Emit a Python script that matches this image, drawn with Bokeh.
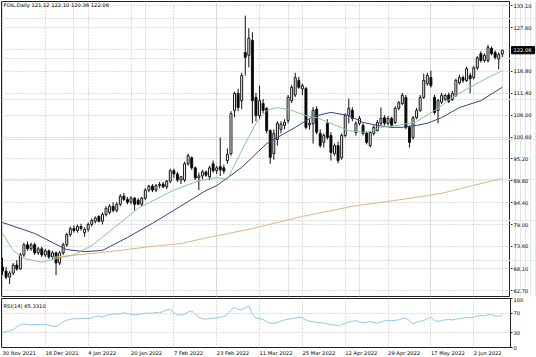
from bokeh.plotting import figure
from bokeh.layouts import column, row
from bokeh.models import ColumnDataSource, FixedTicker, Label, Range1d, Grid, LinearAxis
from bokeh.embed import file_html
from bokeh.resources import INLINE

# ---------------- data ----------------
opens = [68.5, 67.5, 66.0, 67.0, 69.0, 68.0, 71.5, 74.0, 73.0, 74.0,
         72.0, 73.0, 71.5, 72.5, 71.0, 72.0, 69.5, 72.0, 74.0, 76.5,
         78.0, 77.5, 78.5, 77.0, 77.8, 79.0, 79.8, 81.0, 79.8, 81.5,
         82.0, 83.5, 82.5, 84.0, 86.0, 85.2, 84.5, 85.5, 85.0, 84.0,
         85.5, 87.5, 88.5, 87.5, 88.6, 89.0, 88.3, 89.7, 92.3, 91.5,
         90.0, 90.0, 94.0, 95.5, 93.0, 90.5, 91.0, 92.0, 90.8, 94.0,
         92.3, 93.3, 93.0, 94.8, 96.5, 107.2, 111.4, 109.6, 121.5, 120.8,
         124.5, 110.4, 105.9, 108.9, 107.7, 102.2, 96.5, 100.0, 102.5, 103.5,
         104.7, 109.6, 111.0, 114.6, 112.5, 112.6, 103.6, 103.9, 107.5, 101.5,
         99.3, 104.0, 101.0, 96.5, 98.5, 95.5, 101.0, 105.9, 107.2, 101.7,
         104.0, 103.5, 101.7, 98.5, 101.5, 102.2, 104.0, 105.4, 104.0, 105.2,
         104.2, 107.7, 108.9, 110.4, 103.0, 100.5, 105.4, 107.2, 110.4, 113.8,
         115.3, 110.4, 107.2, 109.2, 109.9, 111.0, 109.9, 110.9, 114.0, 115.3,
         114.6, 115.8, 115.3, 117.7, 121.2, 119.5, 119.5, 122.5, 121.5, 119.9,
         121.12]
highs = [70.8, 68.5, 67.5, 69.5, 70.2, 72.0, 74.5, 74.8, 74.5, 74.5,
         73.5, 73.5, 73.0, 72.8, 72.5, 72.3, 72.5, 74.5, 77.0, 78.5,
         78.8, 79.0, 79.2, 78.3, 79.5, 80.5, 81.0, 81.3, 82.0, 83.5,
         84.0, 84.5, 84.5, 86.5, 86.8, 85.8, 86.0, 85.8, 85.5, 85.8,
         88.0, 88.8, 89.0, 89.0, 89.5, 89.5, 90.0, 92.8, 92.8, 92.0,
         91.0, 94.5, 96.5, 95.8, 93.3, 91.8, 92.5, 92.3, 93.5, 94.8,
         93.5, 100.5, 93.8, 97.8, 107.0, 111.8, 112.5, 116.5, 130.6, 127.5,
         126.5, 111.5, 113.3, 110.0, 108.0, 102.5, 102.5, 104.5, 104.5, 105.0,
         111.0, 113.5, 116.5, 115.5, 113.8, 113.0, 105.0, 108.0, 108.2, 102.5,
         101.5, 105.0, 101.8, 99.0, 99.5, 101.5, 106.5, 110.1, 108.0, 104.5,
         105.8, 104.0, 102.0, 102.0, 103.5, 104.8, 107.9, 106.0, 105.8, 105.6,
         108.2, 109.5, 111.5, 111.0, 103.5, 105.8, 107.8, 111.0, 116.3, 116.5,
         117.0, 111.0, 110.0, 111.5, 111.3, 111.6, 112.0, 115.0, 116.0, 115.8,
         118.0, 116.5, 118.2, 120.6, 121.8, 121.3, 123.4, 123.0, 122.0, 121.5,
         122.10]
lows = [66.5, 65.5, 64.3, 66.5, 67.6, 67.8, 71.0, 72.5, 72.5, 71.5,
        71.5, 71.0, 71.0, 70.5, 70.5, 66.5, 69.0, 71.5, 73.5, 76.0,
        77.0, 77.0, 77.5, 76.0, 77.2, 78.5, 79.3, 79.5, 79.0, 81.0,
        81.5, 82.0, 82.0, 83.5, 84.8, 84.0, 84.0, 82.5, 83.8, 83.5,
        85.0, 87.0, 87.0, 87.0, 88.0, 88.0, 87.8, 89.2, 90.5, 89.5,
        89.0, 89.5, 93.5, 92.5, 90.0, 87.5, 90.2, 90.8, 90.0, 91.8,
        91.5, 91.0, 91.5, 94.0, 96.0, 105.5, 107.0, 107.5, 115.8, 117.8,
        104.0, 104.5, 105.0, 106.5, 101.5, 94.0, 95.0, 98.5, 101.5, 102.5,
        104.0, 109.0, 110.5, 112.5, 111.0, 102.5, 102.5, 99.0, 101.3, 98.0,
        98.0, 100.0, 94.8, 96.0, 94.1, 95.0, 100.5, 104.0, 104.5, 101.0,
        103.5, 101.0, 98.8, 98.0, 101.0, 102.0, 103.5, 103.5, 103.5, 103.0,
        103.8, 107.2, 108.5, 102.5, 98.0, 100.0, 105.0, 106.8, 110.0, 113.3,
        112.8, 106.2, 104.0, 108.8, 109.5, 109.0, 109.5, 110.5, 113.6, 114.0,
        114.2, 111.4, 114.8, 117.2, 119.0, 119.0, 119.0, 120.8, 119.8, 117.3,
        120.36]
closes = [67.5, 66.0, 67.0, 69.0, 68.0, 71.5, 74.0, 73.0, 74.0, 72.0,
          73.0, 71.5, 72.5, 71.0, 72.0, 69.5, 72.0, 74.0, 76.5, 78.0,
          77.5, 78.5, 78.0, 77.8, 79.0, 80.0, 80.6, 79.8, 81.5, 83.0,
          83.5, 82.5, 84.0, 86.0, 85.2, 84.5, 85.5, 84.0, 84.0, 85.5,
          87.5, 88.5, 87.5, 88.6, 88.9, 88.3, 89.7, 92.3, 91.5, 90.0,
          90.8, 94.0, 96.0, 93.0, 90.5, 91.0, 92.0, 91.2, 93.0, 92.3,
          93.0, 92.5, 92.2, 96.3, 106.4, 111.4, 107.9, 115.8, 120.3, 125.0,
          109.6, 105.9, 109.6, 107.2, 102.2, 95.6, 101.5, 104.0, 103.8, 104.3,
          110.4, 112.9, 115.3, 112.9, 113.3, 103.0, 104.0, 107.2, 101.8, 98.5,
          101.0, 100.5, 96.8, 98.5, 94.8, 101.0, 105.9, 107.7, 105.2, 104.0,
          105.2, 101.5, 99.3, 101.7, 103.0, 104.2, 105.2, 104.0, 105.2, 103.5,
          107.7, 109.1, 110.9, 103.0, 99.3, 105.4, 107.2, 110.4, 114.6, 115.8,
          113.3, 106.7, 109.6, 110.9, 110.9, 109.4, 111.4, 114.6, 115.3, 114.6,
          117.5, 115.0, 117.7, 120.2, 119.5, 120.8, 122.7, 121.2, 120.3, 121.0,
          122.06]

# moving averages (bar index, price)
ma_fast_i = [0, 3, 6, 11, 15, 20, 25, 30, 38, 48, 55, 60, 63, 68, 71, 74, 77, 81, 85, 88,
             97, 102, 106, 111, 116, 122, 126, 131, 136, 140]
ma_fast_v = [76.8, 72.6, 70.6, 69.7, 70.6, 71.5, 73.8, 77.3, 83.0, 87.5, 89.8, 90.6, 90.2,
             99.0, 104.0, 107.2, 107.9, 107.2, 105.9, 105.4, 102.2, 101.7, 103.0, 103.5,
             104.4, 107.7, 110.4, 112.9, 115.3, 117.0]
ma_mid_i = [0, 9, 15, 18, 23, 28, 35, 42, 48, 57, 60, 67, 74, 82, 87, 92, 97, 101, 105,
            109, 112, 116, 119, 123, 128, 134, 140]
ma_mid_v = [79.5, 76.8, 74.1, 72.8, 72.3, 72.6, 75.8, 79.3, 82.5, 87.4, 88.6, 93.1, 99.0,
            103.0, 105.7, 106.7, 105.9, 104.2, 103.5, 103.0, 103.0, 103.5, 104.0, 105.4,
            107.9, 109.6, 112.9]
ma_slow_i = [14, 28, 42, 50, 56, 70, 84, 98, 112, 123, 140]
ma_slow_v = [70.9, 72.1, 73.6, 74.3, 75.5, 78.0, 81.0, 83.5, 85.2, 86.7, 90.4]

rsi = [30.9, 32.2, 33.9, 36.3, 41.8, 46.7, 48.0, 46.7, 46.0, 47.3,
       46.7, 47.3, 47.3, 45.3, 43.9, 42.5, 46.7, 52.8, 55.6, 57.6,
       59.0, 58.3, 59.0, 59.7, 59.0, 60.4, 63.1, 64.5, 61.8, 65.9,
       67.3, 68.6, 68.0, 69.3, 70.7, 69.3, 68.0, 66.6, 67.3, 68.6,
       70.0, 70.0, 70.0, 71.4, 70.7, 73.5, 76.9, 77.6, 70.7, 66.6,
       66.6, 67.3, 72.8, 74.8, 67.3, 61.1, 58.3, 58.3, 59.0, 59.7,
       60.4, 61.8, 63.1, 68.0, 76.9, 81.7, 77.6, 76.9, 81.0, 85.1,
       68.6, 59.7, 59.7, 57.0, 52.8, 49.4, 49.4, 50.8, 54.2, 56.3,
       57.6, 59.0, 60.4, 61.8, 60.4, 56.3, 53.5, 52.8, 50.8, 50.8,
       49.4, 48.0, 46.7, 46.0, 43.9, 46.7, 49.4, 52.1, 53.5, 54.9,
       52.1, 50.8, 51.5, 52.8, 50.8, 49.4, 52.1, 54.2, 54.9, 54.9,
       55.6, 56.3, 59.0, 59.7, 54.9, 48.0, 51.5, 53.5, 54.9, 59.0,
       61.8, 54.9, 53.5, 54.9, 56.3, 57.0, 56.3, 57.6, 59.0, 59.7,
       61.8, 60.4, 61.8, 64.5, 65.2, 64.5, 67.3, 66.6, 64.5, 63.8,
       65.33]

date_labels = ["30 Nov 2021", "16 Dec 2021", "4 Jan 2022", "20 Jan 2022", "7 Feb 2022",
               "23 Feb 2022", "11 Mar 2022", "25 Mar 2022", "12 Apr 2022", "29 Apr 2022",
               "17 May 2022", "2 Jun 2022"]
date_idx = [0, 12, 24, 36, 48, 60, 72, 84, 96, 108, 120, 132]
price_ticks = [62.70, 68.10, 73.60, 79.00, 84.40, 89.80, 95.20, 100.60, 106.00, 111.40,
               116.80, 127.60, 133.10]
price_grid = [62.70, 68.10, 73.60, 79.00, 84.40, 89.80, 95.20, 100.60, 106.00, 111.40,
              116.80, 122.20, 127.60, 133.10]
rsi_ticks = [0, 30, 70, 100]
rsi_levels = [30, 70]

symbol_text = "FOIL,Daily 121.12 122.10 120.36 122.06"
last_price = 122.06
rsi_text = "RSI(14) 65.3310"

# ---------------- style ----------------
FONT = "DejaVu Sans"
FS_PX = 5.2
FS = f"{FS_PX}px"
GRID_COLOR = "#bdbdbd"
GRID_DASH = "1 2"
FRAME_W = 509
SIDE_W = 26
X0, X1 = -0.28, 142.3
PX_PER_BAR = FRAME_W / (X1 - X0)
PRICE_PX = 295 / (134.09 - 61.22)   # pixels per price unit
BOX_HALF_PX = 3.6

# approximate DejaVu Sans advance widths (em) to left-align date labels at their grid line
CHAR_EM = {" ": 0.318, "N": 0.748, "o": 0.612, "v": 0.592, "D": 0.770, "e": 0.615,
           "c": 0.550, "J": 0.295, "a": 0.613, "n": 0.634, "F": 0.575, "b": 0.635,
           "M": 0.863, "r": 0.411, "A": 0.684, "p": 0.635, "y": 0.592, "u": 0.634}


def text_px(s):
    return sum(CHAR_EM.get(ch, 0.636) for ch in s) * FS_PX


date_centers = [round(i + text_px(t) / 2 / PX_PER_BAR, 4) for i, t in zip(date_idx, date_labels)]

n = len(closes)
idx = list(range(n))
up = [c >= o for o, c in zip(opens, closes)]
src = ColumnDataSource(dict(
    x=idx, o=opens, h=highs, l=lows, c=closes,
    top=[max(o, c) for o, c in zip(opens, closes)],
    bottom=[min(o, c) for o, c in zip(opens, closes)],
    fill=["white" if u else "black" for u in up],
))

x_range = Range1d(X0, X1)
price_range = Range1d(61.22, 134.09)


def style_right_axis(ax, tick_out=2):
    ax.major_label_text_font = FONT
    ax.major_label_text_font_size = FS
    ax.major_label_text_color = "black"
    ax.major_tick_out = tick_out
    ax.major_tick_in = 0
    ax.minor_tick_out = 0
    ax.minor_tick_in = 0
    ax.major_label_standoff = 1
    ax.axis_line_color = None
    ax.major_tick_line_color = "#202020"


# ---------------- main price panel ----------------
p = figure(frame_width=FRAME_W, frame_height=295, x_range=x_range, y_range=price_range,
           output_backend="svg", toolbar_location=None,
           x_axis_location=None, y_axis_location=None,
           min_border_left=1, min_border_top=1, min_border_bottom=1, min_border_right=0)
p.outline_line_color = "#202020"
p.background_fill_color = "white"
p.border_fill_color = "white"

p.add_layout(Grid(dimension=1, ticker=FixedTicker(ticks=price_grid),
                  grid_line_color=GRID_COLOR, grid_line_dash=GRID_DASH))
p.add_layout(Grid(dimension=0, ticker=FixedTicker(ticks=date_idx),
                  grid_line_color=GRID_COLOR, grid_line_dash=GRID_DASH))

p.segment(x0="x", y0="l", x1="x", y1="h", source=src, line_color="#111111", line_width=1)
p.vbar(x="x", width=0.55, top="top", bottom="bottom", source=src,
       fill_color="fill", line_color="#111111", line_width=1)

p.line(ma_slow_i, ma_slow_v, line_color="#e0b483", line_width=1)
p.line(ma_mid_i, ma_mid_v, line_color="#3e3e86", line_width=1)
p.line(ma_fast_i, ma_fast_v, line_color="#86c4a0", line_width=1)

p.add_layout(Label(x=2, y=292, x_units="screen", y_units="screen", text=symbol_text,
                   text_font=FONT, text_font_size=FS, text_color="black",
                   text_baseline="middle", text_align="left"))

# ---------------- price scale strip (right of the main panel) ----------------
side = figure(frame_width=SIDE_W, frame_height=295, x_range=Range1d(0, SIDE_W),
              y_range=price_range, output_backend="svg", toolbar_location=None,
              x_axis_location=None, y_axis_location=None,
              min_border_left=0, min_border_right=0, min_border_top=1, min_border_bottom=1)
side.outline_line_color = None
side.background_fill_color = "white"
side.border_fill_color = "white"

box_half = BOX_HALF_PX / PRICE_PX
side.quad(left=[1], right=[SIDE_W - 2], top=[last_price + box_half],
          bottom=[last_price - box_half], fill_color="black", line_color="black")

price_axis = LinearAxis(ticker=FixedTicker(ticks=price_ticks),
                        major_label_overrides={t: f"{t:.2f}" for t in price_ticks},
                        fixed_location=0)
style_right_axis(price_axis)
side.add_layout(price_axis, "right")

last_axis = LinearAxis(ticker=FixedTicker(ticks=[last_price]),
                       major_label_overrides={last_price: f"{last_price:.2f}"},
                       fixed_location=0)
style_right_axis(last_axis, tick_out=0)
last_axis.major_label_standoff = 3
last_axis.major_label_text_color = "white"
side.add_layout(last_axis, "right")

# ---------------- RSI panel ----------------
r = figure(frame_width=FRAME_W, frame_height=49, x_range=x_range, y_range=Range1d(0, 100),
           output_backend="svg", toolbar_location=None, x_axis_location="below",
           y_axis_location="right",
           min_border_left=1, min_border_top=1, min_border_bottom=10, min_border_right=SIDE_W)
r.outline_line_color = "#202020"
r.background_fill_color = "white"
r.border_fill_color = "white"

rax = r.yaxis[0]
rax.ticker = FixedTicker(ticks=rsi_ticks)
style_right_axis(rax)
r.ygrid.ticker = FixedTicker(ticks=rsi_levels)
r.ygrid.grid_line_color = GRID_COLOR
r.ygrid.grid_line_dash = GRID_DASH

xax = r.xaxis[0]
xax.ticker = FixedTicker(ticks=date_centers)
xax.major_label_overrides = {c: t for c, t in zip(date_centers, date_labels)}
xax.major_label_text_font = FONT
xax.major_label_text_font_size = FS
xax.major_label_text_color = "black"
xax.major_tick_out = 0
xax.major_tick_in = 0
xax.minor_tick_out = 0
xax.minor_tick_in = 0
xax.major_label_standoff = 2
xax.axis_line_color = None
r.xgrid.visible = False
r.add_layout(Grid(dimension=0, ticker=FixedTicker(ticks=date_idx),
                  grid_line_color=GRID_COLOR, grid_line_dash=GRID_DASH))

r.line(list(range(len(rsi))), rsi, line_color="#8ec8e8", line_width=1)

r.add_layout(Label(x=2, y=42, x_units="screen", y_units="screen", text=rsi_text,
                   text_font=FONT, text_font_size=FS, text_color="black",
                   text_baseline="middle", text_align="left"))

layout = column(row(p, side, spacing=0), r, spacing=0)
open("out.html", "w").write(file_html(layout, INLINE))
